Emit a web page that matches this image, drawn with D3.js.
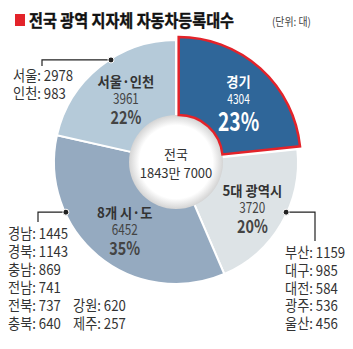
<!DOCTYPE html>
<html><head><meta charset="utf-8">
<script src="https://cdn.jsdelivr.net/npm/d3@7"></script>
<style>body{margin:0;background:#fff}svg{display:block}</style>
</head><body><svg id="c" width="353" height="349"></svg>
<script>
const categories = ["경기", "5대 광역시", "8개 시·도", "서울·인천"];
const values = [4304, 3720, 6452, 3961];
const percents = ["23%", "20%", "35%", "22%"];
const totalLabel = ["전국", "1843만 7000"];
const seoulNames = ["서울", "인천"];
const seoulValues = [2978, 983];
const metroNames = ["부산", "대구", "대전", "광주", "울산"];
const metroValues = [1159, 985, 584, 536, 456];
const provNames = ["경남", "경북", "충남", "전남", "전북", "충북"];
const provValues = [1445, 1143, 869, 741, 737, 640];
const provNames2 = ["강원", "제주"];
const provValues2 = [620, 257];
const colors = ["#2f6699", "#dde3e6", "#95aac0", "#b5cad9"];

const FONT = "'Noto Sans CJK KR', 'Noto Sans', sans-serif";
const svg = d3.select("#c");
const cx = 176, cy = 162, rOuter = 122, rInner = 44;

function txt(g, x, y, s, size, weight, fill, sx, anchor) {
  return g.append("text")
    .attr("transform", `translate(${x},${y}) scale(${sx},1)`)
    .attr("text-anchor", anchor || "middle")
    .attr("font-family", FONT)
    .attr("font-size", size)
    .attr("font-weight", weight)
    .attr("fill", fill)
    .text(s);
}

// title
svg.append("rect").attr("x", 15).attr("y", 14).attr("width", 10).attr("height", 12).attr("fill", "#e3232a");
txt(svg, 29, 27, "전국 광역 지자체 자동차등록대수", 17, "bold", "#111", 0.89, "start")
  .attr("stroke", "#111").attr("stroke-width", 0.4);
txt(svg, 272, 26, "(단위: 대)", 11, "normal", "#444", 0.9, "start");

const pie = d3.pie().sort(null).value(d => d);
const arcs = pie(values);
const arc = d3.arc().innerRadius(rInner).outerRadius(rOuter);
const labelArc = d3.arc().innerRadius(85).outerRadius(85);

const g = svg.append("g").attr("transform", `translate(${cx},${cy})`);
const hi = 0;
const explode = 4;
function offs(d, r) {
  const a = (d.startAngle + d.endAngle) / 2;
  return [Math.sin(a) * r, -Math.cos(a) * r];
}

g.selectAll("path.sl").data(arcs.filter((d, i) => i !== hi)).enter().append("path")
  .attr("class", "sl")
  .attr("d", arc)
  .attr("fill", d => colors[d.index])
  .attr("stroke", "#fff").attr("stroke-width", 2);

// inner circle
const defs = svg.append("defs");
const rg = defs.append("radialGradient").attr("id", "rg");
rg.append("stop").attr("offset", "0%").attr("stop-color", "#fff");
rg.append("stop").attr("offset", "78%").attr("stop-color", "#fff");
rg.append("stop").attr("offset", "100%").attr("stop-color", "#d4d4d4");
g.append("circle").attr("r", 47).attr("fill", "url(#rg)");

// highlighted slice
const dh = arcs[hi];
const eo = offs(dh, explode);
g.append("path").attr("d", arc(dh))
  .attr("transform", `translate(${eo[0]},${eo[1]})`)
  .attr("fill", colors[hi])
  .attr("stroke", "#e3232a").attr("stroke-width", 2.5).attr("stroke-linejoin", "miter");

// slice labels
arcs.forEach((d, i) => {
  let [x, y] = labelArc.centroid(d);
  x += 3;
  const isHi = i === hi;
  if (isHi) { x += eo[0]; y += eo[1]; }
  const fill = isHi ? "#fff" : "#333";
  txt(g, x, y - 9, categories[i], 14, "bold", fill, 0.95);
  txt(g, x, y + 8, values[i], isHi ? 13 : 15, "normal", isHi ? "#fff" : "#444", 0.78);
  txt(g, x, y + (isHi ? 35 : 28), percents[i], isHi ? 26 : 18, "bold", isHi ? "#fff" : "#444", isHi ? 0.74 : 0.8);
});

// center text
txt(g, 0, -3, totalLabel[0], 13, "normal", "#333", 1);
txt(g, 0, 16, totalLabel[1], 13, "normal", "#333", 1);

// leader lines
function rim(deg) {
  const a = deg * Math.PI / 180;
  return [cx + Math.sin(a) * 121, cy - Math.cos(a) * 121];
}
function leader(deg, hx, vy) {
  const [px, py] = rim(deg);
  svg.append("path").attr("d", `M${px},${py}H${hx}V${vy}`)
    .attr("fill", "none").attr("stroke", "#222").attr("stroke-width", 1.2);
  svg.append("circle").attr("cx", px).attr("cy", py).attr("r", 3).attr("fill", "#222")
    .attr("stroke", "#fff").attr("stroke-width", 1);
}
leader(327.5, 42, 66);
leader(245.5, 38, 222);
leader(114.5, 315, 241);

// side lists
const SF = 15, SX = 0.88;
seoulNames.forEach((n, i) => txt(svg, 13, 81 + i * 18, `${n}: ${seoulValues[i]}`, SF, "normal", "#333", SX, "start"));
provNames.forEach((n, i) => txt(svg, 8, 239 + i * 18, `${n}: ${provValues[i]}`, SF, "normal", "#333", SX, "start"));
provNames2.forEach((n, i) => txt(svg, 73, 311 + i * 18, `${n}: ${provValues2[i]}`, SF, "normal", "#333", SX, "start"));
metroNames.forEach((n, i) => txt(svg, 285, 258 + i * 17.8, `${n}: ${metroValues[i]}`, SF, "normal", "#333", SX, "start"));
</script>
</body></html>
